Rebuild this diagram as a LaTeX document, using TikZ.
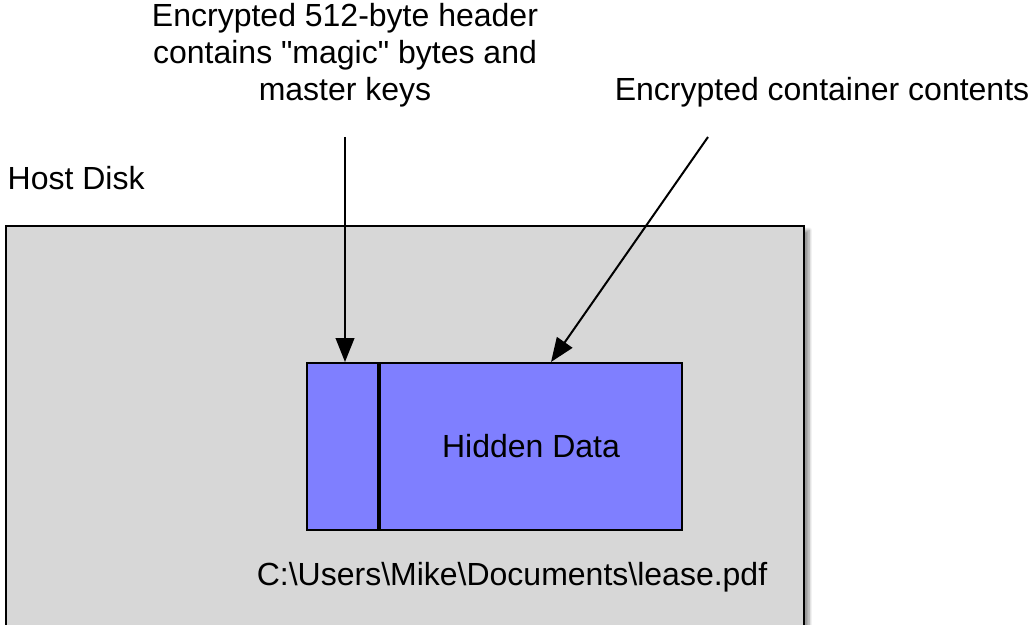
\documentclass[tikz,border=0pt]{standalone}
\usepackage{fontspec}
\setmainfont{Liberation Sans}[Ligatures=TeXOff]
\usetikzlibrary{arrows.meta,shadows.blur}
\definecolor{disk}{RGB}{215,215,215}
\definecolor{hidden}{RGB}{127,127,255}

\begin{document}
\begin{tikzpicture}[x=0.75pt,y=-0.75pt,font=\fontsize{24}{27.75}\selectfont]
\useasboundingbox (0,0) rectangle (1030,624);
\clip (0,0) rectangle (1030,624);
\node[draw,line width=1.5pt,fill=disk,inner sep=0,anchor=north west,minimum width=598.5pt,minimum height=320pt,
  blur shadow={shadow xshift=4pt,shadow yshift=-3pt,shadow blur steps=10}] (disk) at (5,225) {};
\node[anchor=west] (hd) at (3,178) {Host Disk};
% header block and the container behind it
\node[draw,line width=1.5pt,fill=hidden,inner sep=0,anchor=north west,minimum width=53pt,minimum height=125pt] (hdr) at (306,362) {};
\node[draw,line width=1.5pt,fill=hidden,inner sep=0,anchor=north west,minimum width=227pt,minimum height=125pt] (data) at (hdr.north east) {};
\node (hid) at (data.center) {Hidden Data};
\node (path) at (512,577) {C:\textbackslash Users\textbackslash Mike\textbackslash Documents\textbackslash lease.pdf};
% labels on top
\node[align=center] (hl) at (345,55) {Encrypted 512-byte header\\contains "magic" bytes and\\master keys};
\node (cl) at (822,92) {Encrypted container contents};
\coordinate (a) at (345,137);
\coordinate (b) at (708,137);
\draw[-{Triangle[length=18pt,width=14pt]},line width=1.5pt] (a) -- (a |- hdr.north);
\draw[-{Triangle[length=18pt,width=14pt]},line width=1.5pt] (b) -- ([xshift=15pt]data.north);
\end{tikzpicture}
\end{document}
